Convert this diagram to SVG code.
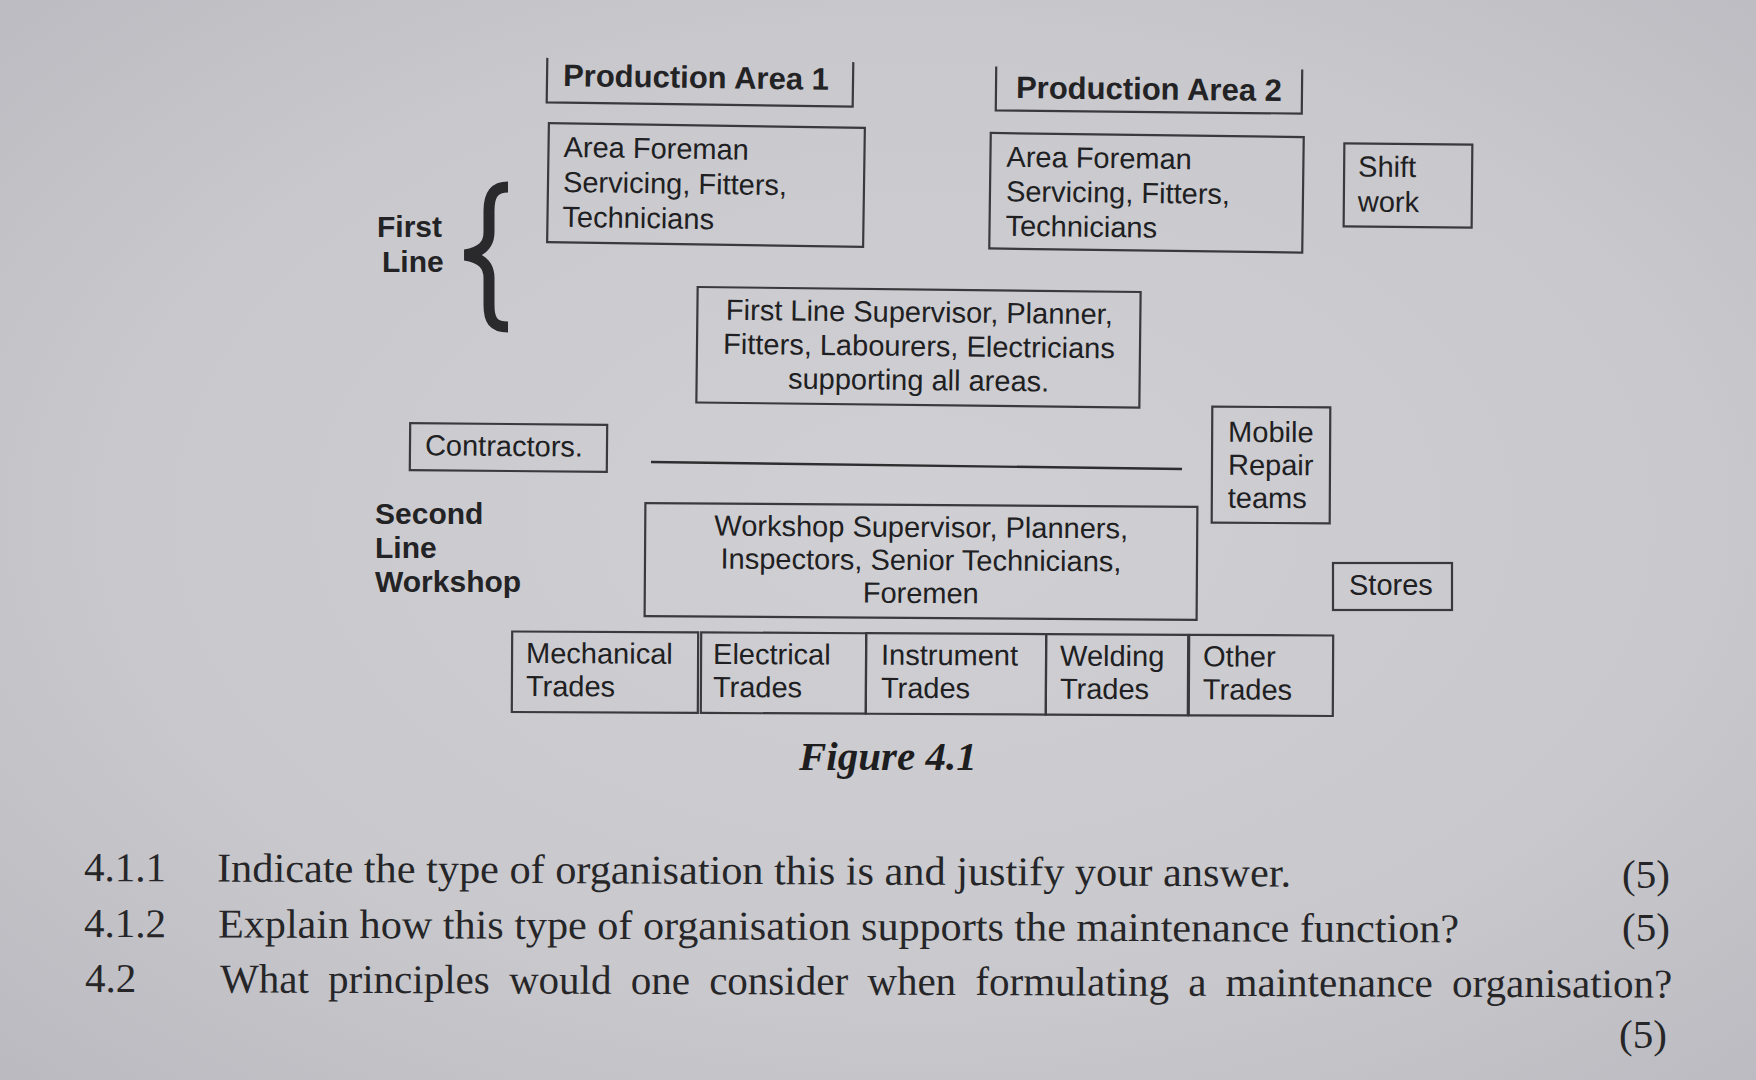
<svg xmlns="http://www.w3.org/2000/svg" width="1756" height="1080" viewBox="0 0 1756 1080">
<defs>
<radialGradient id="paper" cx="52%" cy="48%" r="75%">
<stop offset="0" stop-color="#d0d0d4"/>
<stop offset="0.6" stop-color="#c8c8cd"/>
<stop offset="1" stop-color="#b9b9bf"/>
</radialGradient>
<style>
.box{fill:none;stroke:#3a3a3d;stroke-width:2.2}
.t{font-family:"Liberation Sans",Arial,sans-serif;font-size:29px;fill:#202022}
.c{text-anchor:middle}
.lb{font-family:"Liberation Sans",Arial,sans-serif;font-size:30px;font-weight:bold;fill:#232325}
.hdr{font-family:"Liberation Sans",Arial,sans-serif;font-size:31px;font-weight:bold;fill:#232325}
.q{font-family:"Liberation Serif","Times New Roman",serif;font-size:41px;fill:#262628}
.fig{font-family:"Liberation Serif","Times New Roman",serif;font-size:41px;font-weight:bold;font-style:italic;fill:#1e1e20}
.conn{fill:none;stroke:#2e2e30;stroke-width:2.4}
.brace{fill:none;stroke:#2a2a2c;stroke-width:11}
</style>
</defs>
<rect x="0" y="0" width="1756" height="1080" fill="url(#paper)"/>

<g id="connectors">
<path class="conn" d="M651,462 L1182,469"/>
</g>

<g id="production-area-1" transform="rotate(0.8 700 82)">
<path class="box" d="M547,60 V104.5 H853 V60"/>
<text class="hdr" x="563" y="88">Production Area 1</text>
</g>

<g id="production-area-2" transform="rotate(0.6 1149 90)">
<path class="box" d="M996,68 V112 H1302 V68"/>
<text class="hdr" x="1016" y="99.5">Production Area 2</text>
</g>

<g id="area-foreman-1" transform="rotate(0.85 706 185)">
<rect class="box" x="548" y="125.5" width="316" height="119"/>
<text class="t" x="563" y="159">Area Foreman</text>
<text class="t" x="563" y="194">Servicing, Fitters,</text>
<text class="t" x="563" y="229">Technicians</text>
</g>

<g id="area-foreman-2" transform="rotate(0.75 1146 193)">
<rect class="box" x="990" y="135" width="313" height="115.5"/>
<text class="t" x="1006" y="168.5">Area Foreman</text>
<text class="t" x="1006" y="203">Servicing, Fitters,</text>
<text class="t" x="1006" y="237.5">Technicians</text>
</g>

<g id="shift-work" transform="rotate(0.5 1408 185)">
<rect class="box" x="1344" y="144" width="128" height="83"/>
<text class="t" x="1358" y="177">Shift</text>
<text class="t" x="1358" y="212">work</text>
</g>

<g id="first-line-label">
<text class="lb" x="377" y="237">First</text>
<text class="lb" x="382" y="272">Line</text>
<path class="brace" d="M508,187 C493,187 489,196 489,211 L489,232 C489,245 482,252 465,255 C482,258 489,265 489,278 L489,305 C489,320 493,327 508,327"/>
</g>

<g id="first-line-supervisor" transform="rotate(0.65 918 347)">
<rect class="box" x="697" y="289.5" width="443" height="115.5"/>
<text class="t c" x="919" y="322">First Line Supervisor, Planner,</text>
<text class="t c" x="919" y="356">Fitters, Labourers, Electricians</text>
<text class="t c" x="919" y="390">supporting all areas.</text>
</g>

<g id="contractors" transform="rotate(0.5 508 447)">
<rect class="box" x="410" y="424" width="197" height="47"/>
<text class="t" x="425" y="456">Contractors.</text>
</g>

<g id="mobile-repair-teams" transform="rotate(0.3 1271 465)">
<rect class="box" x="1212" y="407" width="118" height="116"/>
<text class="t" x="1228" y="442">Mobile</text>
<text class="t" x="1228" y="475">Repair</text>
<text class="t" x="1228" y="508">teams</text>
</g>

<g id="second-line-label">
<text class="lb" x="375" y="524">Second</text>
<text class="lb" x="375" y="558">Line</text>
<text class="lb" x="375" y="592">Workshop</text>
</g>

<g id="workshop-supervisor" transform="rotate(0.4 921 561)">
<rect class="box" x="645" y="505" width="552" height="113"/>
<text class="t c" x="921" y="537">Workshop Supervisor, Planners,</text>
<text class="t c" x="921" y="570">Inspectors, Senior Technicians,</text>
<text class="t c" x="921" y="603">Foremen</text>
</g>

<g id="stores">
<rect class="box" x="1333" y="563" width="119" height="47"/>
<text class="t" x="1349" y="595">Stores</text>
</g>

<g id="trades" transform="rotate(0.28 922 673)">
<g id="mechanical-trades">
<rect class="box" x="512" y="633.5" width="186" height="80.5"/>
<text class="t" x="526" y="665">Mechanical</text>
<text class="t" x="526" y="698">Trades</text>
</g>
<g id="electrical-trades">
<rect class="box" x="701" y="633.5" width="165" height="80.5"/>
<text class="t" x="713" y="665">Electrical</text>
<text class="t" x="713" y="698">Trades</text>
</g>
<g id="instrument-trades">
<rect class="box" x="866" y="633.5" width="180" height="80.5"/>
<text class="t" x="881" y="665">Instrument</text>
<text class="t" x="881" y="698">Trades</text>
</g>
<g id="welding-trades">
<rect class="box" x="1046" y="633.5" width="142" height="80.5"/>
<text class="t" x="1060" y="665">Welding</text>
<text class="t" x="1060" y="698">Trades</text>
</g>
<g id="other-trades">
<rect class="box" x="1189" y="633.5" width="144" height="80.5"/>
<text class="t" x="1203" y="665">Other</text>
<text class="t" x="1203" y="698">Trades</text>
</g>
</g>

<g id="caption">
<text class="fig" x="799" y="770">Figure 4.1</text>
</g>

<g id="questions">
<g transform="rotate(0.26 84 881)">
<text class="q" x="84" y="881">4.1.1</text>
<text class="q" x="217" y="881" textLength="1074" lengthAdjust="spacingAndGlyphs">Indicate the type of organisation this is and justify your answer.</text>
</g>
<text class="q" x="1622" y="888">(5)</text>
<g transform="rotate(0.22 84 937)">
<text class="q" x="84" y="937">4.1.2</text>
<text class="q" x="218" y="937" textLength="1241" lengthAdjust="spacingAndGlyphs">Explain how this type of organisation supports the maintenance function?</text>
</g>
<text class="q" x="1622" y="941">(5)</text>
<g transform="rotate(0.2 85 992)">
<text class="q" x="85" y="992">4.2</text>
<text class="q" x="220" y="992" word-spacing="9">What principles would one consider when formulating a maintenance organisation?</text>
</g>
<text class="q" x="1619" y="1048">(5)</text>
</g>
</svg>
